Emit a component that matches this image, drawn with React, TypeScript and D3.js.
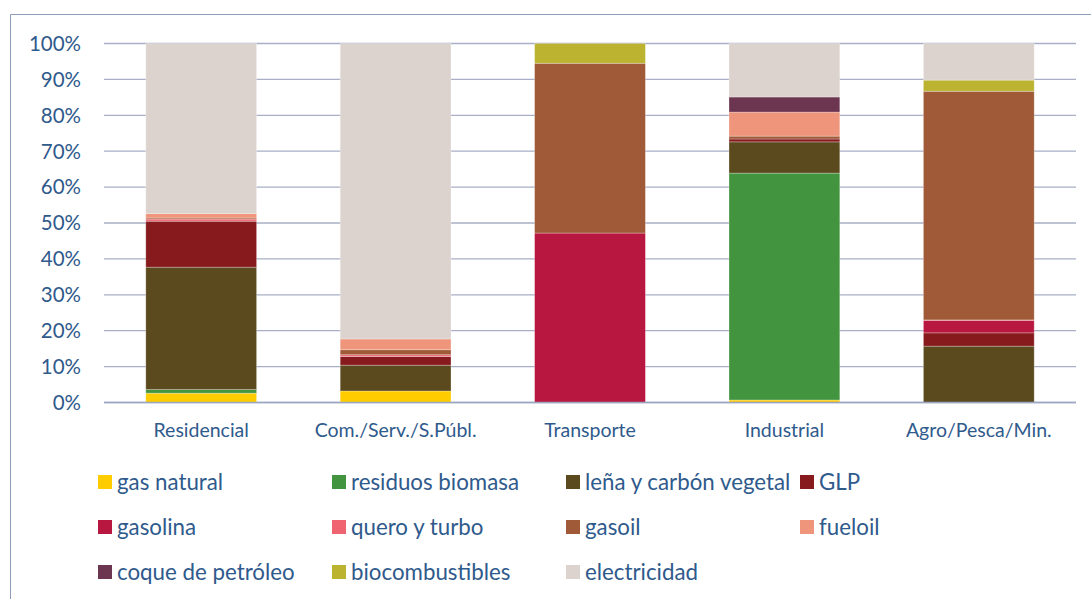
import React from "react";
import * as d3 from "d3";

const categories = ["Residencial", "Com./Serv./S.Públ.", "Transporte", "Industrial", "Agro/Pesca/Min."];

const seriesNames = [
  "gas natural",
  "residuos biomasa",
  "leña y carbón vegetal",
  "GLP",
  "gasolina",
  "quero y turbo",
  "gasoil",
  "fueloil",
  "coque de petróleo",
  "biocombustibles",
  "electricidad",
];

const gasNatural = [2.6, 3.2, 0, 0.7, 0];
const residuosBiomasa = [1.0, 0, 0, 63.2, 0];
const lenaCarbon = [34.1, 7.2, 0, 8.7, 15.7];
const glp = [12.8, 2.4, 0, 0.8, 3.7];
const gasolina = [0, 0, 47.2, 0, 3.5];
const queroTurbo = [0.6, 0.5, 0, 0, 0.1];
const gasoil = [0.3, 1.4, 47.3, 0.8, 63.7];
const fueloil = [1.2, 3.0, 0, 6.7, 0];
const coque = [0, 0, 0, 4.2, 0];
const biocombustibles = [0, 0, 5.5, 0, 3.1];
const electricidad = [47.4, 82.3, 0, 14.9, 10.2];

const seriesValues = [
  gasNatural,
  residuosBiomasa,
  lenaCarbon,
  glp,
  gasolina,
  queroTurbo,
  gasoil,
  fueloil,
  coque,
  biocombustibles,
  electricidad,
];

const colors = [
  "#FFCC00",
  "#43943F",
  "#5B4A1E",
  "#861A1D",
  "#B8183F",
  "#F06472",
  "#A05A37",
  "#EE957B",
  "#6C3550",
  "#BCB431",
  "#DCD3CE",
];

const yTicks = [0, 10, 20, 30, 40, 50, 60, 70, 80, 90, 100];

const W = 1091;
const H = 599;
const plotLeft = 104;
const plotRight = 1076;
const plotTop = 43.5;
const plotBottom = 402.5;
const textColor = "#2F5A8C";
const font = "Lato, 'Open Sans', sans-serif";

export default function App() {
  const x = d3.scaleBand<string>().domain(categories).range([plotLeft, plotRight]).paddingInner(0.43).paddingOuter(0.215);
  const y = d3.scaleLinear().domain([0, 100]).range([plotBottom, plotTop]);

  const rows = categories.map((c, i) => {
    const r: Record<string, number | string> = { cat: c };
    seriesNames.forEach((s, j) => (r[s] = seriesValues[j][i]));
    return r;
  });
  const stack = d3.stack<Record<string, number | string>>().keys(seriesNames)(rows as any);

  const legendCols = [98, 332, 566, 800];
  const legendRows = [482, 527, 572];

  return (
    <svg width={W} height={H} style={{ position: "absolute", left: 0, top: 0, background: "#fff" }} fontFamily={font}>
      {/* frame */}
      <line x1={10.5} x2={W} y1={14.5} y2={14.5} stroke="#8E9CBA" strokeWidth={1} />
      <line x1={10.5} x2={10.5} y1={14.5} y2={H} stroke="#8E9CBA" strokeWidth={1} />

      {/* gridlines */}
      {yTicks.map((t) => (
        <line key={t} x1={plotLeft} x2={plotRight} y1={y(t)} y2={y(t)} stroke="#A8AFC6" strokeWidth={1.3} />
      ))}

      {/* bars */}
      {stack.map((layer, j) => (
        <g key={j} fill={colors[j]}>
          {layer.map((d, i) => {
            const h = y(d[0]) - y(d[1]);
            if (h <= 0) return null;
            return (
              <rect
                key={i}
                x={x(categories[i])}
                width={x.bandwidth()}
                y={y(d[1])}
                height={h}
                stroke="rgba(255,255,255,0.35)"
                strokeWidth={0.8}
              />
            );
          })}
        </g>
      ))}

      {/* axis baseline */}
      <line x1={plotLeft} x2={plotRight} y1={y(0)} y2={y(0)} stroke="#9AA6C2" strokeWidth={1.3} />

      {/* y tick labels */}
      {yTicks.map((t) => (
        <text key={t} x={81} y={y(t)} dy="0.36em" textAnchor="end" fontSize={20.5} fill={textColor}>
          {t}%
        </text>
      ))}

      {/* x labels */}
      {categories.map((c) => (
        <text key={c} x={(x(c) as number) + x.bandwidth() / 2} y={437} textAnchor="middle" fontSize={19.5} fill={textColor}>
          {c}
        </text>
      ))}

      {/* legend */}
      {seriesNames.map((s, j) => {
        const col = j % 4;
        const row = Math.floor(j / 4);
        const lx = legendCols[col];
        const ly = legendRows[row];
        return (
          <g key={s}>
            <rect x={lx} y={ly - 7} width={14} height={14} fill={colors[j]} />
            <text x={lx + 19} y={ly} dy="0.36em" fontSize={22.3} fill={textColor}>
              {s}
            </text>
          </g>
        );
      })}
    </svg>
  );
}
